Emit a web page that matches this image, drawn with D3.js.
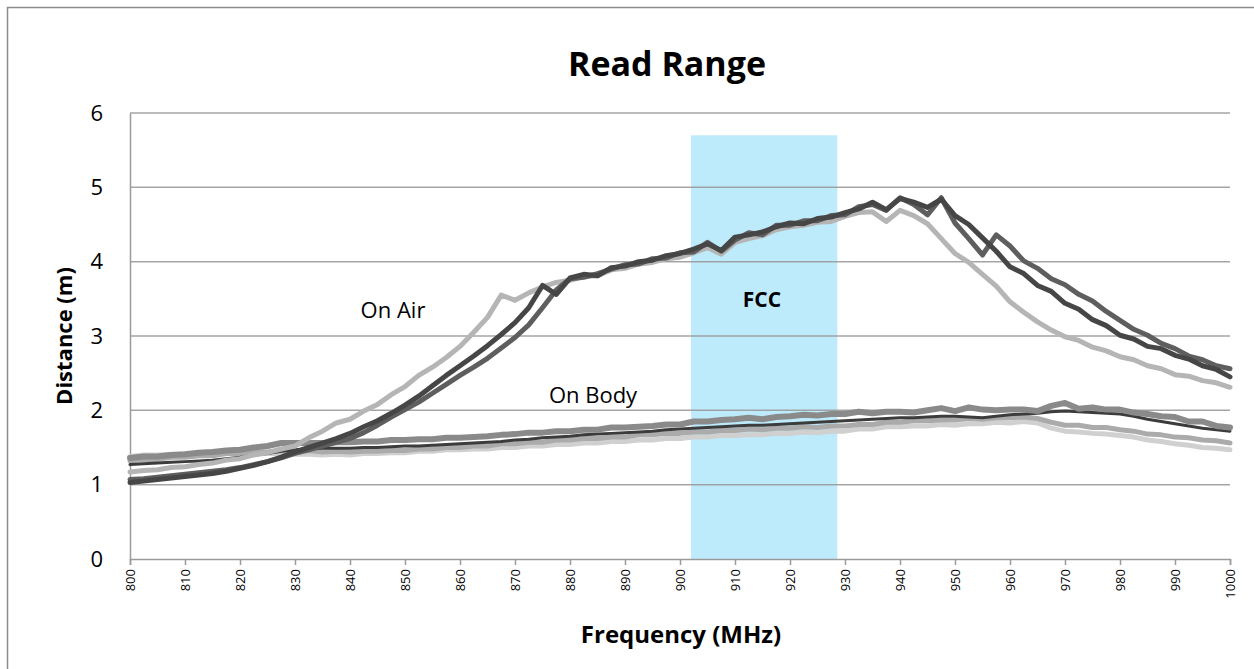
<!DOCTYPE html>
<html>
<head>
<meta charset="utf-8">
<script src="https://cdn.jsdelivr.net/npm/d3@7"></script>
<style>
  html, body { margin: 0; padding: 0; background: #fff; }
  svg { display: block; }
  text { font-family: "Open Sans", "Liberation Sans", sans-serif; fill: #000; }
</style>
</head>
<body>
<svg id="chart" width="1254" height="669"></svg>
<script>
// ---------------- data ----------------
const frequencies = d3.range(0, 81).map(i => 800 + i * 2.5); // MHz, 2.5 MHz step
const xTicks = [800,810,820,830,840,850,860,870,880,890,900,910,920,930,940,950,960,970,980,990,1000];
const yTicks = [0,1,2,3,4,5,6];
const fccBand = [902, 928.6];
const fccTop = 5.7;

// On Air – light gray
const onAirLight = [
 1.17,1.19,1.20,1.23,1.24,1.27,1.29,1.33,1.35,1.40,1.43,1.48,1.52,1.63,1.72,1.83,
 1.88,1.99,2.08,2.21,2.32,2.47,2.58,2.71,2.86,3.05,3.25,3.55,3.48,3.58,3.66,3.72,
 3.75,3.80,3.81,3.89,3.91,3.97,3.99,4.04,4.06,4.12,4.19,4.10,4.26,4.31,4.35,4.43,
 4.47,4.49,4.53,4.54,4.61,4.66,4.67,4.54,4.69,4.62,4.51,4.31,4.11,3.99,3.83,3.67,
 3.46,3.32,3.19,3.08,2.99,2.94,2.85,2.80,2.72,2.68,2.60,2.56,2.48,2.46,2.40,2.37,2.31];
// On Air – dark (smooth descent)
const onAirDark1 = [
 1.03,1.05,1.07,1.09,1.11,1.13,1.15,1.18,1.22,1.26,1.31,1.37,1.44,1.50,1.56,1.62,
 1.69,1.78,1.86,1.96,2.07,2.19,2.33,2.47,2.60,2.73,2.87,3.02,3.18,3.38,3.68,3.56,
 3.78,3.83,3.81,3.92,3.94,4.00,4.02,4.08,4.11,4.17,4.24,4.15,4.33,4.36,4.40,4.47,
 4.52,4.51,4.58,4.60,4.66,4.71,4.80,4.70,4.85,4.80,4.73,4.84,4.62,4.50,4.32,4.14,
 3.93,3.84,3.68,3.60,3.44,3.36,3.22,3.14,3.01,2.96,2.86,2.83,2.74,2.69,2.60,2.55,2.45];
// On Air – dark gray (with spike near 957 MHz)
const onAirDark2 = [
 1.07,1.08,1.10,1.12,1.14,1.16,1.18,1.20,1.23,1.27,1.31,1.36,1.42,1.47,1.52,1.57,
 1.62,1.70,1.80,1.91,2.01,2.11,2.23,2.35,2.47,2.58,2.70,2.84,2.98,3.15,3.38,3.62,
 3.77,3.79,3.84,3.90,3.96,3.97,4.04,4.05,4.12,4.13,4.26,4.14,4.29,4.39,4.36,4.49,
 4.49,4.55,4.55,4.62,4.63,4.74,4.77,4.69,4.86,4.77,4.63,4.86,4.52,4.31,4.09,4.36,
 4.21,4.01,3.91,3.77,3.69,3.56,3.47,3.33,3.21,3.09,3.01,2.90,2.83,2.73,2.68,2.60,2.56];

// On Body series
const onBodyLightest = [
 1.38,1.40,1.40,1.41,1.41,1.43,1.42,1.43,1.42,1.43,1.42,1.42,1.41,1.41,1.40,1.41,
 1.40,1.42,1.42,1.43,1.43,1.45,1.45,1.47,1.47,1.48,1.48,1.50,1.50,1.52,1.52,1.54,
 1.54,1.56,1.56,1.58,1.58,1.60,1.60,1.62,1.62,1.64,1.64,1.66,1.66,1.67,1.67,1.69,
 1.69,1.71,1.70,1.72,1.72,1.75,1.75,1.78,1.78,1.79,1.79,1.81,1.80,1.82,1.82,1.84,
 1.83,1.85,1.83,1.76,1.72,1.71,1.69,1.68,1.66,1.64,1.60,1.58,1.55,1.53,1.50,1.49,1.47];
const onBodyLight = [
 1.32,1.34,1.34,1.37,1.37,1.39,1.39,1.42,1.42,1.44,1.44,1.46,1.45,1.46,1.44,1.45,
 1.44,1.45,1.45,1.46,1.46,1.48,1.48,1.50,1.50,1.52,1.52,1.55,1.55,1.57,1.57,1.60,
 1.60,1.62,1.62,1.64,1.64,1.67,1.67,1.69,1.69,1.71,1.71,1.73,1.73,1.75,1.74,1.76,
 1.76,1.78,1.77,1.79,1.79,1.81,1.81,1.84,1.84,1.86,1.86,1.87,1.87,1.89,1.88,1.90,
 1.90,1.91,1.89,1.84,1.80,1.80,1.77,1.77,1.74,1.72,1.68,1.67,1.64,1.63,1.60,1.59,1.56];
const onBodyDark = [
 1.27,1.28,1.29,1.30,1.31,1.32,1.33,1.35,1.37,1.40,1.42,1.45,1.47,1.48,1.49,1.49,
 1.49,1.50,1.50,1.51,1.52,1.52,1.53,1.54,1.55,1.56,1.57,1.58,1.60,1.61,1.63,1.64,
 1.65,1.67,1.68,1.69,1.70,1.71,1.72,1.74,1.75,1.76,1.77,1.78,1.79,1.80,1.80,1.81,
 1.82,1.83,1.84,1.85,1.86,1.87,1.88,1.89,1.90,1.90,1.91,1.92,1.92,1.91,1.90,1.92,
 1.94,1.95,1.96,1.98,1.99,1.98,1.97,1.96,1.95,1.92,1.88,1.85,1.82,1.79,1.76,1.74,1.72];
const onBodyMedium = [
 1.36,1.38,1.38,1.40,1.41,1.43,1.44,1.46,1.47,1.50,1.52,1.56,1.56,1.56,1.56,1.57,
 1.57,1.58,1.58,1.60,1.60,1.61,1.61,1.63,1.63,1.64,1.65,1.67,1.68,1.70,1.70,1.72,
 1.72,1.74,1.74,1.77,1.77,1.78,1.79,1.81,1.81,1.85,1.85,1.87,1.88,1.90,1.88,1.91,
 1.92,1.94,1.93,1.95,1.95,1.98,1.96,1.98,1.98,1.97,2.00,2.03,1.99,2.04,2.01,2.00,
 2.01,2.01,1.99,2.06,2.10,2.02,2.04,2.01,2.01,1.97,1.95,1.92,1.91,1.85,1.85,1.79,1.77];

const seriesNames = ["onBodyLightest","onBodyLight","onBodyDark","onBodyMedium","onAirLight","onAirDark2","onAirDark1"];
const seriesValues = [onBodyLightest,onBodyLight,onBodyDark,onBodyMedium,onAirLight,onAirDark2,onAirDark1];
const seriesColors = ["#d0d0d0","#ababab","#3c3c3c","#8a8a8a","#b5b5b5","#5e5e5e","#464646"];
const seriesWidths = [5,5,3,6,5,5,5];

// ---------------- layout ----------------
const svg = d3.select("#chart");
const W = 1254, H = 669;
const m = { left: 130, right: 24, top: 113, bottom: 110 };
const x = d3.scaleLinear().domain([800, 1000]).range([m.left, W - m.right]);
const y = d3.scaleLinear().domain([0, 6]).range([H - m.bottom, m.top]);

// outer border
svg.append("rect").attr("x", 7.5).attr("y", 7.5).attr("width", 1300).attr("height", 700)
  .attr("fill", "none").attr("stroke", "#8c8c8c").attr("stroke-width", 1.5);

// FCC band
svg.append("rect")
  .attr("x", x(fccBand[0])).attr("y", y(fccTop))
  .attr("width", x(fccBand[1]) - x(fccBand[0]))
  .attr("height", y(0) - y(fccTop))
  .attr("fill", "#bdebfb");

// gridlines
svg.append("g").selectAll("line").data(yTicks.filter(d => d > 0)).join("line")
  .attr("x1", x(800)).attr("x2", x(1000))
  .attr("y1", d => y(d)).attr("y2", d => y(d))
  .attr("stroke", "#9a9a9a").attr("stroke-width", 1.5)
  .attr("stroke-opacity", 0.9);

// x axis
const xAxis = svg.append("g").attr("transform", `translate(0,${y(0)})`)
  .call(d3.axisBottom(x).tickValues(xTicks).tickSize(6).tickPadding(6).tickFormat(d3.format("d")));
xAxis.select(".domain").attr("stroke", "#9a9a9a").attr("stroke-width", 1.5);
xAxis.selectAll(".tick line").attr("stroke", "#9a9a9a").attr("stroke-width", 1.5);
xAxis.selectAll(".tick text")
  .attr("transform", "rotate(-90)")
  .attr("x", -10).attr("y", 0).attr("dy", "0.35em")
  .attr("text-anchor", "end")
  .style("font-size", "13px").style("font-family", "'Open Sans', sans-serif").attr("fill", "#000");

// y axis
const yAxis = svg.append("g").attr("transform", `translate(${x(800)},0)`)
  .call(d3.axisLeft(y).tickValues(yTicks).tickSize(0).tickPadding(27).tickFormat(d3.format("d")));
yAxis.select(".domain").attr("stroke", "#9a9a9a").attr("stroke-width", 1.5);
yAxis.selectAll(".tick text").style("font-size", "22px").style("font-family", "'Open Sans', sans-serif").attr("fill", "#000");

// lines
const line = d3.line().x((d, i) => x(frequencies[i])).y(d => y(d)).curve(d3.curveLinear);
svg.append("g").selectAll("path").data(seriesValues).join("path")
  .attr("d", d => line(d))
  .attr("fill", "none")
  .attr("stroke", (d, i) => seriesColors[i])
  .attr("stroke-width", (d, i) => seriesWidths[i])
  .attr("stroke-linejoin", "round").attr("stroke-linecap", "round");

// titles
svg.append("text").attr("x", 667).attr("y", 76).attr("text-anchor", "middle")
  .style("font-size", "34px").style("font-weight", "bold").text("Read Range");
svg.append("text").attr("transform", `translate(72,${(y(0)+y(6))/2}) rotate(-90)`)
  .attr("text-anchor", "middle")
  .style("font-size", "22px").style("font-weight", "bold").text("Distance (m)");
svg.append("text").attr("x", 681).attr("y", 643).attr("text-anchor", "middle")
  .style("font-size", "24px").style("font-weight", "bold").text("Frequency (MHz)");

// annotations
svg.append("text").attr("x", 393).attr("y", 318).attr("text-anchor", "middle")
  .style("font-size", "22px").text("On Air");
svg.append("text").attr("x", 593).attr("y", 403).attr("text-anchor", "middle")
  .style("font-size", "22px").text("On Body");
svg.append("text").attr("x", 762).attr("y", 307).attr("text-anchor", "middle")
  .style("font-size", "21px").style("font-weight", "bold").text("FCC");
</script>
</body>
</html>
